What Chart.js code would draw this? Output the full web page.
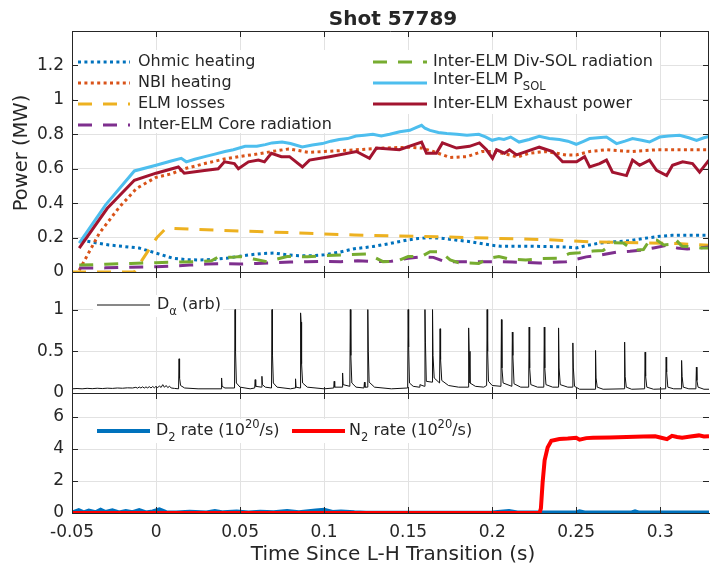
<!DOCTYPE html>
<html>
<head>
<meta charset="utf-8">
<script src="https://cdn.jsdelivr.net/npm/chart.js@4.4.1/dist/chart.umd.min.js"></script>
<style>
  body { margin: 0; background: #fff; }
  #wrap { position: relative; width: 710px; height: 570px; }
  #wrap canvas { position: absolute; left: 0; top: 0; }
</style>
</head>
<body>
<div id="wrap">
  <canvas id="powerChart" width="710" height="570"></canvas>
  <canvas id="dalphaChart" width="710" height="570"></canvas>
  <canvas id="gasChart" width="710" height="570"></canvas>
</div>
<script>
// ---- data: [time (s), value] ----
const ohmic = [[-0.0446,0.186],[-0.036,0.17],[-0.028,0.157],[-0.019,0.148],[-0.01,0.139],[0,0.11],[0.01,0.08],[0.018,0.072],[0.026,0.07],[0.034,0.073],[0.042,0.08],[0.05,0.092],[0.056,0.1],[0.063,0.107],[0.07,0.11],[0.078,0.1],[0.085,0.095],[0.093,0.095],[0.1,0.1],[0.109,0.115],[0.118,0.135],[0.129,0.148],[0.139,0.165],[0.149,0.185],[0.156,0.195],[0.163,0.2],[0.171,0.195],[0.179,0.185],[0.186,0.177],[0.192,0.168],[0.2,0.155],[0.205,0.15],[0.213,0.15],[0.22,0.15],[0.232,0.148],[0.244,0.145],[0.25,0.14],[0.257,0.155],[0.264,0.168],[0.272,0.175],[0.28,0.18],[0.287,0.19],[0.294,0.2],[0.3,0.208],[0.307,0.213],[0.318,0.214],[0.329,0.213]];
const nbi = [[-0.0457,0.01],[-0.0337,0.226],[-0.0218,0.377],[-0.0117,0.485],[0,0.55],[0.009,0.57],[0.017,0.6],[0.029,0.63],[0.04,0.655],[0.049,0.67],[0.06,0.685],[0.069,0.7],[0.079,0.715],[0.091,0.695],[0.1,0.7],[0.11,0.705],[0.119,0.71],[0.135,0.72],[0.151,0.725],[0.158,0.72],[0.165,0.7],[0.175,0.665],[0.185,0.67],[0.194,0.7],[0.2,0.7],[0.206,0.69],[0.215,0.668],[0.222,0.69],[0.232,0.7],[0.244,0.68],[0.25,0.68],[0.258,0.7],[0.268,0.71],[0.283,0.7],[0.298,0.71],[0.311,0.71],[0.329,0.71]];
const elmLoss = [[-0.05,0],[-0.013,0],[0.0005,0.2],[0.006,0.255],[0.03,0.245],[0.06,0.235],[0.09,0.225],[0.118,0.215],[0.14,0.21],[0.167,0.205],[0.205,0.195],[0.237,0.186],[0.258,0.175],[0.29,0.17],[0.31,0.165],[0.329,0.155]];
const coreRad = [[-0.0457,0.023],[-0.03,0.024],[-0.015,0.028],[0,0.03],[0.01,0.035],[0.02,0.04],[0.03,0.046],[0.04,0.048],[0.05,0.046],[0.06,0.05],[0.07,0.054],[0.08,0.058],[0.09,0.06],[0.1,0.062],[0.11,0.06],[0.12,0.065],[0.13,0.06],[0.14,0.062],[0.15,0.08],[0.158,0.088],[0.165,0.085],[0.172,0.06],[0.185,0.06],[0.2,0.06],[0.212,0.058],[0.228,0.052],[0.244,0.06],[0.256,0.088],[0.265,0.1],[0.274,0.115],[0.282,0.12],[0.288,0.126],[0.296,0.14],[0.304,0.155],[0.31,0.14],[0.316,0.133],[0.322,0.14],[0.329,0.145]];
const divSolRad = [[-0.0457,0.04],[-0.03,0.045],[-0.015,0.05],[0,0.054],[0.015,0.058],[0.026,0.06],[0.033,0.065],[0.037,0.087],[0.045,0.085],[0.05,0.09],[0.058,0.075],[0.066,0.06],[0.072,0.075],[0.078,0.09],[0.09,0.089],[0.1,0.095],[0.112,0.1],[0.125,0.104],[0.13,0.085],[0.135,0.06],[0.143,0.062],[0.15,0.09],[0.158,0.09],[0.163,0.118],[0.169,0.118],[0.175,0.07],[0.18,0.054],[0.192,0.05],[0.198,0.08],[0.204,0.09],[0.21,0.075],[0.22,0.07],[0.23,0.078],[0.24,0.08],[0.246,0.108],[0.252,0.112],[0.26,0.122],[0.266,0.125],[0.272,0.17],[0.278,0.168],[0.284,0.127],[0.29,0.13],[0.294,0.19],[0.298,0.185],[0.302,0.157],[0.306,0.16],[0.309,0.19],[0.313,0.15],[0.318,0.147],[0.324,0.14],[0.329,0.14]];
const pSol = [[-0.0457,0.168],[-0.03,0.39],[-0.0129,0.587],[0,0.62],[0.009,0.645],[0.015,0.66],[0.018,0.64],[0.023,0.655],[0.029,0.67],[0.035,0.685],[0.041,0.7],[0.046,0.71],[0.053,0.73],[0.06,0.73],[0.065,0.74],[0.069,0.75],[0.075,0.755],[0.08,0.746],[0.087,0.726],[0.093,0.738],[0.099,0.746],[0.104,0.76],[0.109,0.77],[0.114,0.775],[0.119,0.79],[0.124,0.795],[0.129,0.8],[0.134,0.79],[0.139,0.8],[0.145,0.815],[0.151,0.823],[0.155,0.84],[0.158,0.852],[0.16,0.835],[0.163,0.823],[0.168,0.81],[0.173,0.804],[0.179,0.8],[0.185,0.794],[0.192,0.8],[0.196,0.785],[0.2,0.765],[0.204,0.775],[0.207,0.77],[0.211,0.784],[0.216,0.755],[0.222,0.77],[0.228,0.788],[0.234,0.775],[0.24,0.77],[0.245,0.76],[0.25,0.742],[0.254,0.758],[0.258,0.775],[0.263,0.78],[0.268,0.784],[0.274,0.746],[0.279,0.76],[0.2835,0.775],[0.289,0.765],[0.2936,0.755],[0.2996,0.784],[0.305,0.79],[0.3115,0.794],[0.317,0.78],[0.3216,0.765],[0.326,0.78],[0.329,0.788]];
const exhaust = [[-0.0457,0.139],[-0.029,0.37],[-0.0129,0.533],[0,0.574],[0.0133,0.61],[0.0168,0.574],[0.0288,0.59],[0.037,0.6],[0.0407,0.64],[0.0466,0.63],[0.049,0.6],[0.055,0.64],[0.0609,0.65],[0.0645,0.64],[0.0686,0.69],[0.0746,0.67],[0.0794,0.67],[0.0871,0.61],[0.0913,0.65],[0.1032,0.67],[0.1192,0.7],[0.127,0.66],[0.1311,0.72],[0.1448,0.71],[0.158,0.755],[0.1609,0.69],[0.1668,0.69],[0.1704,0.75],[0.1788,0.72],[0.1865,0.73],[0.1924,0.75],[0.1966,0.71],[0.2002,0.66],[0.2026,0.71],[0.2073,0.69],[0.2103,0.71],[0.2145,0.68],[0.228,0.725],[0.236,0.7],[0.2419,0.64],[0.2502,0.64],[0.255,0.67],[0.258,0.61],[0.2639,0.63],[0.268,0.65],[0.2716,0.58],[0.2799,0.56],[0.2835,0.65],[0.2877,0.62],[0.2936,0.65],[0.2978,0.59],[0.3038,0.56],[0.3073,0.62],[0.3133,0.64],[0.3192,0.63],[0.3234,0.58],[0.329,0.65]];

const dAlpha = [[-0.05,0.05],[-0.047,0.054],[-0.044,0.05],[-0.041,0.056],[-0.038,0.052],[-0.035,0.057],[-0.032,0.053],[-0.029,0.058],[-0.026,0.055],[-0.023,0.06],[-0.02,0.057],[-0.017,0.062],[-0.014,0.06],
  [-0.012,0.068],[-0.011,0.058],[-0.01,0.072],[-0.009,0.06],[-0.008,0.074],[-0.007,0.059],[-0.006,0.073],[-0.005,0.061],[-0.004,0.076],[-0.003,0.06],[-0.002,0.078],[-0.001,0.062],[0,0.08],[0.001,0.063],[0.002,0.085],[0.003,0.066],[0.004,0.1],[0.005,0.068],[0.006,0.09],[0.007,0.064],[0.008,0.082],[0.009,0.06],[0.011,0.055],
  [0.0134,0.05],[0.0137,0.41],[0.014,0.18],[0.0146,0.09],[0.017,0.06],
  [0.025,0.05],[0.0387,0.05],[0.039,0.18],[0.0393,0.08],[0.041,0.06],
  [0.0467,0.06],[0.047,1.0],[0.0473,0.5],[0.0478,0.12],[0.05,0.07],
  [0.056,0.05],[0.0587,0.06],[0.059,0.16],[0.0593,0.08],[0.0627,0.07],[0.063,0.2],[0.0633,0.1],[0.065,0.07],
  [0.0687,0.06],[0.069,1.0],[0.0693,0.45],[0.0698,0.12],[0.072,0.07],
  [0.08,0.05],[0.0827,0.06],[0.083,0.17],[0.0833,0.07],[0.0857,0.06],[0.086,0.96],[0.0863,0.85],[0.0866,0.35],[0.0872,0.12],[0.09,0.07],
  [0.1,0.05],[0.1057,0.06],[0.106,0.14],[0.1063,0.07],[0.1107,0.07],[0.111,0.24],[0.1113,0.1],[0.1153,0.08],[0.1156,1.0],[0.1159,0.45],[0.1165,0.12],[0.119,0.07],
  [0.1237,0.06],[0.124,0.13],[0.1243,0.07],[0.1257,0.07],[0.126,1.0],[0.1263,0.5],[0.1268,0.13],[0.13,0.07],
  [0.14,0.05],[0.1497,0.06],[0.15,1.0],[0.1503,0.55],[0.1508,0.12],[0.153,0.08],[0.1565,0.07],[0.157,0.1],[0.1597,0.08],[0.16,1.0],[0.1603,0.6],[0.1608,0.14],[0.1642,0.13],[0.1645,1.0],[0.1648,0.45],[0.1655,0.18],[0.1687,0.12],[0.169,0.77],[0.1693,0.4],[0.17,0.15],[0.174,0.09],
  [0.18,0.07],[0.1857,0.07],[0.186,0.78],[0.1863,0.5],[0.1868,0.12],[0.19,0.08],[0.195,0.07],[0.1967,0.09],[0.197,1.0],[0.1973,0.5],[0.1978,0.14],[0.2,0.09],
  [0.2052,0.08],[0.2055,0.88],[0.2058,0.3],[0.2065,0.12],[0.2117,0.08],[0.212,0.73],[0.2123,0.45],[0.213,0.11],[0.217,0.07],
  [0.2217,0.07],[0.222,0.79],[0.2223,0.3],[0.223,0.1],[0.227,0.07],[0.2307,0.07],[0.231,0.79],[0.2313,0.3],[0.232,0.1],[0.236,0.07],[0.2392,0.07],[0.2395,0.78],[0.2398,0.3],[0.2405,0.1],[0.245,0.07],[0.2477,0.07],[0.248,0.6],[0.2483,0.3],[0.249,0.08],[0.252,0.045],
  [0.2612,0.045],[0.2615,0.51],[0.2618,0.18],[0.2625,0.07],[0.266,0.045],[0.2785,0.05],[0.2788,0.61],[0.2791,0.2],[0.2798,0.07],[0.283,0.045],[0.2907,0.05],[0.291,0.49],[0.2913,0.2],[0.292,0.07],[0.296,0.045],[0.3032,0.05],[0.3035,0.43],[0.3038,0.25],[0.3045,0.07],[0.308,0.05],[0.3124,0.05],[0.3127,0.39],[0.313,0.2],[0.3137,0.07],[0.317,0.05],[0.3212,0.05],[0.3215,0.31],[0.3218,0.15],[0.3225,0.07],[0.326,0.045],[0.329,0.045]];

const d2Rate = [[-0.05,0.03],[-0.046,0.18],[-0.043,0.04],[-0.04,0.15],[-0.036,0.05],[-0.033,0.2],[-0.03,0.06],[-0.026,0.16],[-0.022,0.04],[-0.018,0.12],[-0.014,0.05],[-0.01,0.18],[-0.006,0.04],[-0.002,0.1],[0.002,0.22],[0.006,0.05],[0.012,0.03],[0.02,0.08],[0.03,0.03],[0.035,0.12],[0.04,0.04],[0.048,0.1],[0.055,0.03],[0.062,0.08],[0.07,0.04],[0.078,0.12],[0.085,0.05],[0.095,0.15],[0.1,0.2],[0.105,0.06],[0.11,0.1],[0.118,0.04],[0.125,0.02],[0.2,0.03],[0.21,0.12],[0.215,0.03],[0.25,0.03],[0.252,0.1],[0.255,0.03],[0.283,0.03],[0.285,0.1],[0.287,0.03],[0.329,0.03]];
const n2Rate = [[-0.05,0],[0.2282,0],[0.229,0.3],[0.23,1.9],[0.2312,3.3],[0.233,4.1],[0.2352,4.52],[0.24,4.62],[0.245,4.65],[0.25,4.7],[0.252,4.58],[0.256,4.68],[0.26,4.7],[0.27,4.72],[0.28,4.75],[0.29,4.78],[0.297,4.8],[0.3,4.72],[0.304,4.62],[0.307,4.82],[0.31,4.75],[0.313,4.7],[0.318,4.78],[0.323,4.85],[0.326,4.78],[0.329,4.8]];

const X_MIN = -0.05, X_MAX = 0.329;

// ---- styling ----
const TEXT = '#262626', AXIS = '#262626', GRID = '#e2e2e2';
const FONT = '"DejaVu Sans", sans-serif';
Chart.defaults.font.family = FONT;
Chart.defaults.color = TEXT;

const toXY = arr => arr.map(([x, y]) => ({ x, y }));
const fmt = v => String(+(+v).toFixed(3));

function line(label, data, color, width, dash, order) {
  return {
    label, data: toXY(data), borderColor: color, borderWidth: width,
    borderDash: dash, pointRadius: 0, tension: 0, fill: false, order
  };
}

function xAxis(showLabels) {
  return {
    type: 'linear', min: X_MIN, max: X_MAX,
    ticks: { stepSize: 0.05, includeBounds: false, display: showLabels, padding: 9,
             color: TEXT, font: { size: 17 }, callback: fmt, maxRotation: 0, autoSkip: false },
    grid: { color: GRID, drawTicks: false },
    border: { display: true, color: AXIS },
    afterFit: s => { s.height = showLabels ? 57 : 0; }
  };
}

function yAxis(max, step) {
  return {
    min: 0, max,
    ticks: { stepSize: step, includeBounds: false, padding: 8, color: TEXT, font: { size: 17 },
             callback: v => (v >= max - 1e-9 ? '' : fmt(v)) },
    grid: { color: GRID, drawTicks: false },
    border: { display: true, color: AXIS },
    afterFit: s => { s.width = 72; }
  };
}

function richText(ctx, x, y, parts, size) {
  ctx.fillStyle = TEXT;
  ctx.textBaseline = 'middle';
  ctx.textAlign = 'left';
  parts.forEach(([s, mode]) => {
    const fs = mode ? size * 0.72 : size;
    ctx.font = fs + 'px ' + FONT;
    const dy = mode === 'sub' ? size * 0.45 : mode === 'sup' ? -size * 0.4 : 0;
    ctx.fillText(s, x, y + dy);
    x += ctx.measureText(s).width;
  });
}

// white legend boxes drawn inside the panels
function makeLegend(boxes, items) {
  return {
    id: 'panelLegend',
    afterDatasetsDraw(chart) {
      const ctx = chart.ctx;
      ctx.save();
      ctx.fillStyle = '#fff';
      boxes.forEach(b => ctx.fillRect(b[0], b[1], b[2], b[3]));
      items.forEach(it => {
        const ds = chart.data.datasets[it.ds];
        ctx.strokeStyle = ds.borderColor;
        ctx.lineWidth = ds.borderWidth;
        ctx.setLineDash(ds.borderDash || []);
        ctx.beginPath();
        ctx.moveTo(it.x1, it.y);
        ctx.lineTo(it.x2, it.y);
        ctx.stroke();
        ctx.setLineDash([]);
        richText(ctx, it.tx, it.ty ?? it.y, it.parts, 16);
      });
      ctx.restore();
    }
  };
}

// box edges, inward tick marks and free text
function makeFrame(opts) {
  return {
    id: 'panelFrame',
    afterDraw(chart) {
      const { ctx, chartArea: a, scales } = chart;
      ctx.save();
      ctx.strokeStyle = AXIS;
      ctx.lineWidth = 1;
      ctx.beginPath();
      if (opts.top) { ctx.moveTo(a.left, a.top + 0.5); ctx.lineTo(a.right, a.top + 0.5); }
      if (opts.right) { ctx.moveTo(a.right - 0.5, a.top); ctx.lineTo(a.right - 0.5, a.bottom); }
      const L = 6;
      scales.x.ticks.forEach(t => {
        const px = Math.round(scales.x.getPixelForValue(t.value)) + 0.5;
        ctx.moveTo(px, a.bottom); ctx.lineTo(px, a.bottom - L);
        ctx.moveTo(px, a.top); ctx.lineTo(px, a.top + L);
      });
      scales.y.ticks.forEach(t => {
        const py = Math.round(scales.y.getPixelForValue(t.value)) + 0.5;
        ctx.moveTo(a.left, py); ctx.lineTo(a.left + L, py);
        ctx.moveTo(a.right, py); ctx.lineTo(a.right - L, py);
      });
      ctx.stroke();
      ctx.fillStyle = TEXT;
      ctx.textAlign = 'center';
      ctx.textBaseline = 'middle';
      if (opts.title) {
        ctx.font = 'bold 20px ' + FONT;
        ctx.fillText(opts.title, 393, 20);
      }
      if (opts.yTitle) {
        ctx.save();
        ctx.translate(22, 153);
        ctx.rotate(-Math.PI / 2);
        ctx.font = '19.5px ' + FONT;
        ctx.fillText(opts.yTitle, 0, 0);
        ctx.restore();
      }
      if (opts.xTitle) {
        ctx.font = '20px ' + FONT;
        ctx.fillText(opts.xTitle, 393, 555);
      }
      ctx.restore();
    }
  };
}

function baseOptions(top, bottom, x, y) {
  return {
    responsive: false, animation: false, events: [],
    layout: { autoPadding: false, padding: { top, bottom, left: 0, right: 1 } },
    plugins: { legend: { display: false }, tooltip: { enabled: false } },
    scales: { x, y }
  };
}

// ---- top panel: power balance ----
new Chart(document.getElementById('powerChart'), {
  type: 'line',
  data: {
    datasets: [
      line('Ohmic heating', ohmic, '#0072BD', 3, [3, 3.4], 7),
      line('NBI heating', nbi, '#D95319', 3, [3, 3.4], 6),
      line('ELM losses', elmLoss, '#EDB120', 3, [14, 11], 5),
      line('Inter-ELM Core radiation', coreRad, '#7E2F8E', 3, [14, 11], 4),
      line('Inter-ELM Div-SOL radiation', divSolRad, '#77AC30', 3, [14, 11], 3),
      line('Inter-ELM PSOL', pSol, '#4DBEEE', 3, [], 2),
      line('Inter-ELM Exhaust power', exhaust, '#A2142F', 3, [], 1)
    ]
  },
  options: baseOptions(31, 298, xAxis(false), yAxis(1.4, 0.2)),
  plugins: [
    makeLegend(
      [[74, 50, 268, 83], [342, 50, 318, 64]],
      [
        { ds: 0, x1: 78, x2: 130, y: 62, tx: 138, parts: [['Ohmic heating']] },
        { ds: 1, x1: 78, x2: 130, y: 83, tx: 138, parts: [['NBI heating']] },
        { ds: 2, x1: 78, x2: 130, y: 104, tx: 138, parts: [['ELM losses']] },
        { ds: 3, x1: 78, x2: 130, y: 125, tx: 138, parts: [['Inter-ELM Core radiation']] },
        { ds: 4, x1: 373, x2: 427, y: 62, tx: 433, parts: [['Inter-ELM Div-SOL radiation']] },
        { ds: 5, x1: 373, x2: 427, y: 83, ty: 80, tx: 433, parts: [['Inter-ELM P'], ['SOL', 'sub']] },
        { ds: 6, x1: 373, x2: 427, y: 104, tx: 433, parts: [['Inter-ELM Exhaust power']] }
      ]),
    makeFrame({ top: true, right: true, title: 'Shot 57789', yTitle: 'Power (MW)' })
  ]
});

// ---- middle panel: D-alpha ----
new Chart(document.getElementById('dalphaChart'), {
  type: 'line',
  data: { datasets: [line('D\u03b1 (arb)', dAlpha, '#111111', 1, [], 1)] },
  options: baseOptions(272, 177, xAxis(false), yAxis(1.45, 0.5)),
  plugins: [
    makeLegend([[93, 295, 130, 22]],
      [{ ds: 0, x1: 97, x2: 150, y: 305, tx: 157, parts: [['D'], ['\u03b1', 'sub'], [' (arb)']] }]),
    makeFrame({})
  ]
});

// ---- bottom panel: gas puff rates ----
new Chart(document.getElementById('gasChart'), {
  type: 'line',
  data: {
    datasets: [
      line('D2 rate', d2Rate, '#0072BD', 4, [], 2),
      line('N2 rate', n2Rate, '#FF0000', 4, [], 1)
    ]
  },
  options: baseOptions(393, 0, xAxis(true), yAxis(7.5, 2)),
  plugins: [
    makeLegend([[93, 419, 395, 24]],
      [
        { ds: 0, x1: 97, x2: 150, y: 431, tx: 156, parts: [['D'], ['2', 'sub'], [' rate (10'], ['20', 'sup'], ['/s)']] },
        { ds: 1, x1: 292, x2: 345, y: 431, tx: 349, parts: [['N'], ['2', 'sub'], [' rate (10'], ['20', 'sup'], ['/s)']] }
      ]),
    makeFrame({ xTitle: 'Time Since L-H Transition (s)' })
  ]
});
</script>
</body>
</html>
